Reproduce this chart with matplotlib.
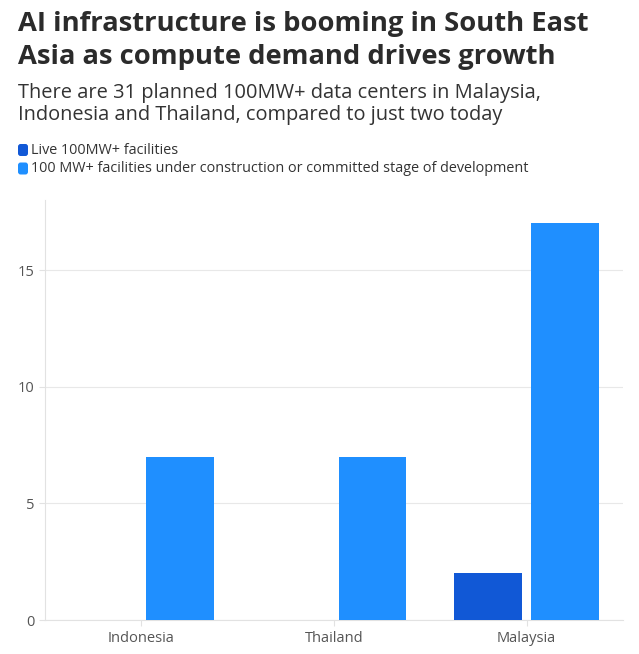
import matplotlib
matplotlib.use("Agg")
import matplotlib.pyplot as plt
from matplotlib.patches import FancyBboxPatch
import numpy as np

categories = ["Indonesia", "Thailand", "Malaysia"]
live = [0, 0, 2]
planned = [7, 7, 17]
series_names = ["Live 100MW+ facilities",
                "100 MW+ facilities under construction or committed stage of development"]
yticks = [0, 5, 10, 15]

c_live = "#1158D6"
c_plan = "#1F8FFF"

plt.rcParams['font.family'] = ['Open Sans', 'DejaVu Sans']

fig = plt.figure(figsize=(6.39, 6.54), dpi=100)
W, H = 639, 654
ax = fig.add_axes([45 / W, 1 - 620 / H, (623 - 45) / W, (620 - 200) / H])

x = np.arange(len(categories))
w = 0.35
ax.bar(x - 0.2, live, width=w, color=c_live, zorder=3)
ax.bar(x + 0.2, planned, width=w, color=c_plan, zorder=3)

ax.set_xlim(-0.5, 2.5)
ax.set_ylim(0, 18)
ax.set_yticks(yticks)
ax.set_yticklabels([str(t) for t in yticks])
ax.set_xticks(x)
ax.set_xticklabels(categories)
ax.grid(axis='y', color='#e8e8e8', linewidth=0.8, zorder=0)
for s in ['top', 'right']:
    ax.spines[s].set_visible(False)
ax.spines['left'].set_color('#e2e2e2')
ax.spines['bottom'].set_color('#e2e2e2')
ax.tick_params(axis='both', colors='#e2e2e2', labelcolor='#555555', labelsize=10.5, length=4)
ax.tick_params(axis='x', pad=4)

tc = '#2b2b2b'
fig.text(18 / W, 1 - 24 / H, "AI infrastructure is booming in South East", fontsize=19.7,
         fontweight='bold', color=tc, va='center', ha='left')
fig.text(18 / W, 1 - 57 / H, "Asia as compute demand drives growth", fontsize=19.7,
         fontweight='bold', color=tc, va='center', ha='left')
fig.text(18 / W, 1 - 93 / H, "There are 31 planned 100MW+ data centers in Malaysia,", fontsize=14.4,
         color='#333333', va='center', ha='left')
fig.text(18 / W, 1 - 115 / H, "Indonesia and Thailand, compared to just two today", fontsize=14.4,
         color='#333333', va='center', ha='left')

for i, (name, col) in enumerate(zip(series_names, [c_live, c_plan])):
    yc = 150 + i * 18.5
    p = FancyBboxPatch((18 / W, 1 - (yc + 6) / H), 10 / W, 12 / H,
                       boxstyle="round,pad=0,rounding_size=0.004",
                       transform=fig.transFigure, facecolor=col, edgecolor='none')
    fig.patches.append(p)
    fig.text(31 / W, 1 - yc / H, name, fontsize=10.4, color='#333333', va='center', ha='left')

fig.savefig("out.png", dpi=100)
